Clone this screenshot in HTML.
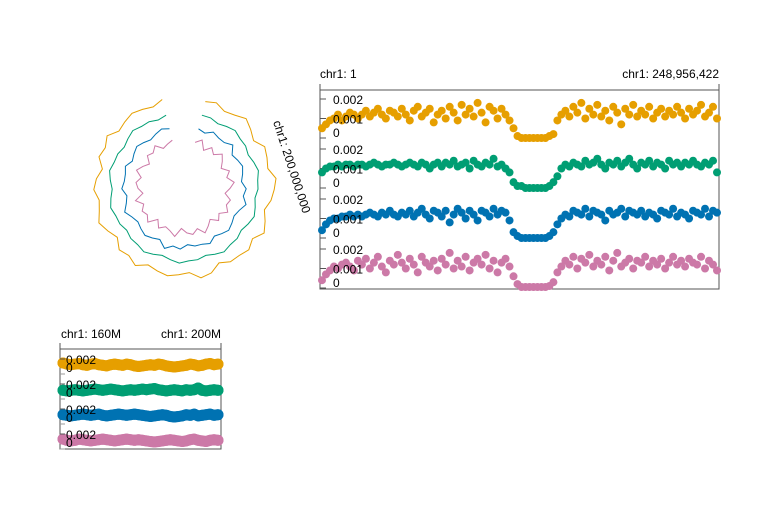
<!DOCTYPE html>
<html><head><meta charset="utf-8"><style>
html,body{margin:0;padding:0;background:#fff;}
svg{display:block;font-family:"Liberation Sans",Arial,sans-serif;}
</style></head><body>
<svg id="c" width="780" height="510" viewBox="0 0 780 510"></svg>
<script>
const seriesNames=['orange','green','blue','pink'];
const seriesColors=['#E69F00','#009E73','#0072B2','#CC79A7'];
const orangeVals=[5,7,9,10,12,9,11,13,12,10,12,14,11,13,15,12,10,14,13,11,15,12,9,14,16,11,13,15,8,12,14,10,16,13,9,17,12,15,11,18,13,8,16,14,10,15,12,9,5,1,0,0,0,0,0,0,0,1,2,9,12,14,11,16,13,18,10,15,12,17,11,14,9,16,13,7,15,12,17,11,14,12,16,10,13,15,11,14,12,16,13,10,15,12,14,17,11,13,16,10];
const greenVals=[8,10,11,11,12,11,12,12,11,12,12,11,12,13,12,11,12,12,13,12,11,12,13,12,11,13,12,10,12,13,11,13,12,14,11,12,13,10,14,12,11,13,12,15,11,12,10,8,3,1,1,0,0,0,0,0,0,1,3,6,10,12,11,13,12,11,14,12,13,15,12,10,13,12,14,11,13,15,12,10,13,12,14,11,13,12,10,14,12,13,11,13,12,14,12,11,13,12,14,8];
const blueVals=[4,7,9,10,10,11,11,12,11,12,11,12,13,12,11,13,12,14,12,11,13,12,14,11,13,15,12,10,14,13,11,14,8,12,15,13,10,14,12,9,14,13,11,15,12,14,13,9,3,1,0,0,0,0,0,0,0,1,3,7,10,12,11,14,13,12,15,11,14,13,12,9,14,12,13,15,11,14,13,12,14,11,13,12,10,14,13,12,15,11,13,12,10,14,13,12,15,11,14,13];
const pinkVals=[4,7,9,11,10,12,13,11,9,14,12,15,10,13,16,11,8,14,12,17,13,10,15,12,8,16,13,11,14,9,15,12,18,10,14,11,16,9,13,15,12,17,10,14,8,13,15,11,6,2,0,0,0,0,0,0,0,1,3,8,11,14,12,16,10,15,13,17,11,14,12,16,9,14,18,11,13,15,10,14,13,16,11,14,12,15,10,13,16,12,14,11,15,13,12,16,10,14,12,9];
const zoomOrange=[19,17,16,17,18,16,15,17,18,16,15,14,16,17,16,15,17,16,14,13,14,15,16,15,17,16,14,13,12,13,14,15,17,16,14,15,17,18,16,17];
const zoomGreen=[15,14,15,16,15,14,15,16,17,16,15,16,17,16,15,14,15,16,15,16,17,16,17,18,16,15,14,15,16,15,14,16,15,16,19,15,14,15,16,15];
const zoomBlue=[16,15,14,15,16,17,16,15,16,17,15,14,15,16,17,16,15,16,17,16,15,14,13,14,15,16,15,13,12,13,14,16,15,17,14,15,16,17,15,16];
const zoomPink=[17,15,14,15,17,16,15,14,15,16,17,16,15,14,15,16,17,16,15,16,15,14,13,12,13,14,15,16,15,14,13,14,16,17,15,14,13,15,16,15];
const circOrange=[12,13,11,12,14,12,10,13,12,11,14,13,12,10,12,14,11,13,12,12,10,13,14,11,12,13,12,11,14,12,13,10,12,14,12,11,13,12,10,13,12,14,11,12,13,12,11,13];
const circGreen=[12,12,11,12,13,12,12,11,12,13,12,12,11,12,13,12,11,12,12,13,12,11,12,12,13,12,11,12,13,12,12,11,12,12,13,12,11,12,13,12,12,11,12,13,12,12,11,12];
const circBlue=[12,11,13,12,12,14,11,12,13,12,11,13,12,14,12,11,12,13,12,11,13,12,12,11,13,12,14,11,12,13,12,11,12,14,12,11,13,12,12,13,11,12,13,12,11,12,13,12];
const circPink=[12,14,10,13,11,14,12,10,13,11,14,12,10,13,12,14,11,13,10,12,14,11,13,12,10,14,12,11,13,10,14,12,13,11,14,10,12,13,11,14,12,10,13,12,14,11,12,13];
const rightTicks=['0.002','0.001','0'];
const zoomTicks=['0.002','0'];
const circleLabel='chr1: 200,000,000';

const svg=document.getElementById('c');
const NS='http://www.w3.org/2000/svg';
function mk(tag,attrs,parent){const e=document.createElementNS(NS,tag);for(const k in attrs)e.setAttribute(k,attrs[k]);(parent||svg).appendChild(e);return e;}
function txt(s,x,y,anchor,parent){const t=mk('text',{x:x,y:y,'font-size':12,fill:'#000','text-anchor':anchor||'start'},parent);t.textContent=s;return t;}

// ---- circular plot ----
const circData=[circOrange,circGreen,circBlue,circPink];
const circR=[88,74,60,46];
const cx=184,cy=187,a0=14,a1=346;
const gC=mk('g',{});


circData.forEach((arr,si)=>{
  const pts=arr.map((v,i)=>{const a=(a0+(a1-a0)*i/(arr.length-1))*Math.PI/180;const r=circR[si]+(v-12)*2.2;return (cx+r*Math.sin(a)).toFixed(1)+','+(cy-r*Math.cos(a)).toFixed(1);});
  const p=mk('polyline',{points:pts.join(' '),fill:'none',stroke:seriesColors[si],'stroke-width':1},gC);
  
  
});
const cl=mk('text',{x:0,y:0,'font-size':12,transform:'translate(273,122) rotate(72)'},gC);
cl.textContent=circleLabel;



// ---- right panel ----
const R={x0:320,x1:719,y0:90,y1:289,trackH:50,scale:19500,base:48};
const gR=mk('g',{});


mk('rect',{x:R.x0,y:R.y0,width:R.x1-R.x0,height:R.y1-R.y0,fill:'none',stroke:'#555','stroke-width':1},gR);
mk('line',{x1:R.x0,y1:84,x2:R.x0,y2:90,stroke:'#555'},gR);
mk('line',{x1:R.x1,y1:84,x2:R.x1,y2:90,stroke:'#555'},gR);
let t1=txt('chr1: 1',320,78,'start',gR);


let t2=txt('chr1: 248,956,422',719,78,'end',gR);


const rData=[orangeVals,greenVals,blueVals,pinkVals];
function rx(i,n){return R.x0+2+(R.x1-R.x0-4)*i/(n-1);}
function ry(v,t){return R.y0+R.base+t*R.trackH-(v/10000)*R.scale;}
rData.forEach((arr,t)=>{
  rightTicks.forEach((lab,k)=>{
    const val=[0.002,0.001,0][k];const y=ry(val*10000,t);
    mk('line',{x1:R.x0,y1:y,x2:R.x0+6,y2:y,stroke:'#555'},gR);
  });
  const g=mk('g',{},gR);
  
  
  arr.forEach((v,i)=>{
    const c=mk('circle',{cx:rx(i,arr.length),cy:Math.min(ry(v,t),R.y1-2),r:4,fill:seriesColors[t]},g);
    
    
  });
  rightTicks.forEach((lab,k)=>{
    const val=[0.002,0.001,0][k];const y=ry(val*10000,t);
    const tt=txt(lab,333,k==2?y-1:y+5,'start',gR);
    
    
  });
});

// ---- bottom zoom panel ----
const Z={x0:60,x1:221,y0:349,y1:449,trackH:25,scale:5800,base:25};
const gZ=mk('g',{});


mk('rect',{x:Z.x0,y:Z.y0,width:Z.x1-Z.x0,height:Z.y1-Z.y0,fill:'none',stroke:'#555'},gZ);
mk('line',{x1:Z.x0,y1:343,x2:Z.x0,y2:349,stroke:'#555'},gZ);
mk('line',{x1:Z.x1,y1:343,x2:Z.x1,y2:349,stroke:'#555'},gZ);
let z1=txt('chr1: 160M',61,338,'start',gZ);


let z2=txt('chr1: 200M',221,338,'end',gZ);


const zData=[zoomOrange,zoomGreen,zoomBlue,zoomPink];
function zx(i,n){return Z.x0+3+(Z.x1-Z.x0-6)*i/(n-1);}
function zy(v,t){return Z.y0+Z.base+t*Z.trackH-(v/10000)*Z.scale;}
zData.forEach((arr,t)=>{
  const g=mk('g',{},gZ);
  
  
  const pts=arr.map((v,i)=>zx(i,arr.length).toFixed(1)+','+zy(v,t).toFixed(1)).join(' ');
  mk('polyline',{points:pts,fill:'none',stroke:seriesColors[t],'stroke-width':11,'stroke-linejoin':'round','stroke-linecap':'round'},g);
  arr.forEach((v,i)=>{
    const c=mk('circle',{cx:zx(i,arr.length),cy:zy(v,t),r:5.5,fill:seriesColors[t]},g);
    
    
  });
  const yt=Z.y0+10+t*Z.trackH;
  mk('line',{x1:Z.x0,y1:yt,x2:Z.x0+5,y2:yt,stroke:'#555'},gZ);
  mk('line',{x1:Z.x0,y1:yt+15,x2:Z.x0+5,y2:yt+15,stroke:'#999'},gZ);
  const a=txt(zoomTicks[0],66,yt+5,'start',gZ);
  
  
  const b=txt(zoomTicks[1],66,yt+13,'start',gZ);
  
  
});
</script>
</body></html>
